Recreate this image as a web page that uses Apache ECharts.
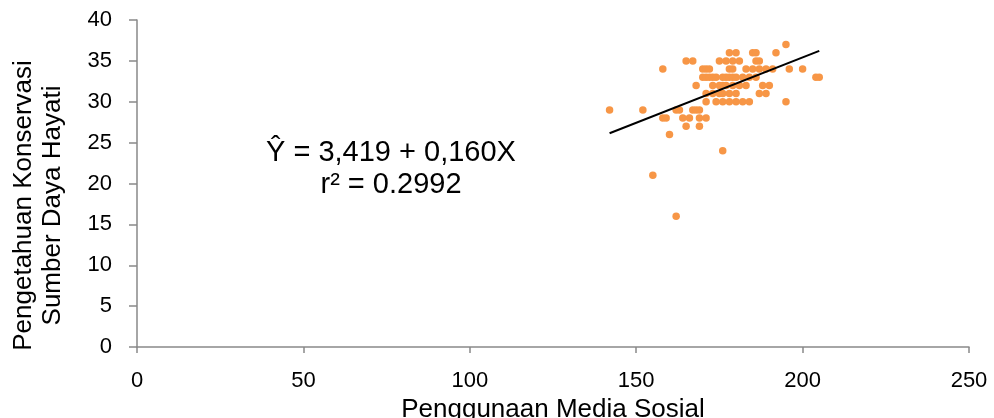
<!DOCTYPE html>
<html>
<head>
<meta charset="utf-8">
<script src="https://cdn.jsdelivr.net/npm/echarts@6/dist/echarts.min.js"></script>
<style>
  html, body { margin: 0; padding: 0; background: #fff; }
  #chart { width: 994px; height: 418px; }
</style>
</head>
<body>
<div id="chart"></div>
<script>
// data points: [Penggunaan Media Sosial, Pengetahuan Konservasi]
const points = [
  [195, 37],
  [178, 36], [180, 36], [185, 36], [186, 36], [192, 36],
  [165, 35], [167, 35], [175, 35], [177, 35], [179, 35], [181, 35], [186, 35], [187, 35],
  [158, 34], [170, 34], [171, 34], [172, 34], [178, 34], [179, 34], [183, 34], [185, 34],
  [187, 34], [189, 34], [191, 34], [196, 34], [200, 34],
  [170, 33], [171, 33], [172, 33], [173, 33], [174, 33], [176, 33], [177, 33], [178, 33],
  [179, 33], [180, 33], [182, 33], [184, 33], [186, 33], [204, 33], [205, 33],
  [168, 32], [173, 32], [175, 32], [176, 32], [177, 32], [179, 32], [181, 32], [183, 32],
  [188, 32], [190, 32],
  [171, 31], [173, 31], [175, 31], [176, 31], [178, 31], [180, 31], [187, 31], [189, 31],
  [171, 30], [174, 30], [176, 30], [178, 30], [180, 30], [182, 30], [184, 30], [195, 30],
  [142, 29], [152, 29], [162, 29], [163, 29], [167, 29], [168, 29], [169, 29],
  [158, 28], [159, 28], [164, 28], [166, 28], [169, 28], [171, 28],
  [165, 27], [169, 27],
  [160, 26],
  [176, 24],
  [155, 21],
  [162, 16]
];

// trend line endpoints (Ŷ = 3,419 + 0,160X)
const trendLine = [[142, 26.14], [205, 36.22]];

const xTicks = [0, 50, 100, 150, 200, 250];
const yTicks = [0, 5, 10, 15, 20, 25, 30, 35, 40];

const equationText = 'Ŷ = 3,419 + 0,160X';
const rSquaredText = 'r² = 0.2992';

const chart = echarts.init(document.getElementById('chart'));

const axisColor = '#898989';
const labelFont = 'Liberation Sans';

chart.setOption({
  animation: false,
  grid: { left: 137, right: 25, top: 20, bottom: 71, outerBoundsMode: 'none', containLabel: false },
  xAxis: {
    type: 'value',
    min: xTicks[0],
    max: xTicks[xTicks.length - 1],
    interval: 50,
    name: 'Penggunaan Media Sosial',
    nameLocation: 'middle',
    nameGap: 38,
    nameTextStyle: { fontFamily: labelFont, fontSize: 26, color: '#000' },
    axisLine: { lineStyle: { color: axisColor, width: 1.5 } },
    axisTick: { show: true, length: 6, lineStyle: { color: axisColor, width: 1.5 } },
    axisLabel: { fontFamily: labelFont, fontSize: 22, color: '#000', margin: 23 },
    splitLine: { show: false }
  },
  yAxis: {
    type: 'value',
    min: yTicks[0],
    max: yTicks[yTicks.length - 1],
    interval: 5,
    name: 'Pengetahuan Konservasi\nSumber Daya Hayati',
    nameLocation: 'middle',
    nameGap: 70,
    nameTextStyle: {
      fontFamily: labelFont, fontSize: 26, color: '#000', lineHeight: 29,
      padding: [0, 44, 0, 0]
    },
    axisLine: { show: true, lineStyle: { color: axisColor, width: 1.5 } },
    axisTick: { show: true, length: 8, lineStyle: { color: axisColor, width: 1.5 } },
    axisLabel: { fontFamily: labelFont, fontSize: 22, color: '#000', margin: 25 },
    splitLine: { show: false }
  },
  graphic: [
    {
      type: 'text',
      x: 391, y: 153,
      style: {
        text: equationText, fontFamily: labelFont, fontSize: 29, fill: '#000',
        align: 'center', verticalAlign: 'middle'
      }
    },
    {
      type: 'text',
      x: 391, y: 185,
      style: {
        text: rSquaredText, fontFamily: labelFont, fontSize: 29, fill: '#000',
        align: 'center', verticalAlign: 'middle'
      }
    }
  ],
  series: [
    {
      type: 'scatter',
      data: points,
      symbolSize: 7.5,
      itemStyle: { color: '#f79646', opacity: 1 }
    },
    {
      type: 'line',
      data: trendLine,
      symbol: 'none',
      lineStyle: { color: '#000', width: 2 },
      z: 3
    }
  ]
});
</script>
</body>
</html>
